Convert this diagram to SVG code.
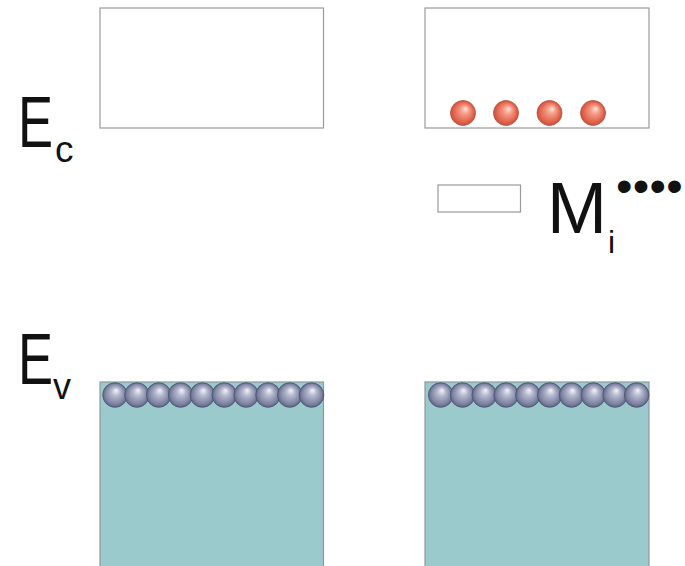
<svg xmlns="http://www.w3.org/2000/svg" width="685" height="566" viewBox="0 0 685 566">
  <defs>
    <radialGradient id="redBall" cx="0.5" cy="0.5" r="0.5" fx="0.62" fy="0.32">
      <stop offset="0" stop-color="#fde3d8"/>
      <stop offset="0.35" stop-color="#f49a85"/>
      <stop offset="0.8" stop-color="#e2634c"/>
      <stop offset="1" stop-color="#c9503c"/>
    </radialGradient>
    <radialGradient id="blueBall" cx="0.5" cy="0.5" r="0.5" fx="0.55" fy="0.3">
      <stop offset="0" stop-color="#f4f5fa"/>
      <stop offset="0.35" stop-color="#b4b8cd"/>
      <stop offset="0.8" stop-color="#7f85a3"/>
      <stop offset="1" stop-color="#5d6384"/>
    </radialGradient>
    <circle id="electron" r="12.5" fill="url(#redBall)" stroke="#b05343" stroke-width="0.8"/>
    <circle id="hole" r="12.3" fill="url(#blueBall)" stroke="#4f5570" stroke-width="0.8"/>
  </defs>
  <style>
    .band { fill: #ffffff; stroke: #9a9a9a; stroke-width: 1.2; }
    .valence { fill: #9bcacc; stroke: #8d9a9b; stroke-width: 1.2; }
    .lbl { font-family: "Liberation Sans", Arial, sans-serif; fill: #111111; }
  </style>
  <rect width="685" height="566" fill="#ffffff"/>

  <!-- energy level labels (condensed capital E) -->
  <g id="label-Ec">
    <text class="lbl" transform="translate(18,147) scale(0.73,1)" font-size="72">E</text>
    <text class="lbl" x="55" y="162" font-size="37">c</text>
  </g>
  <g id="label-Ev">
    <text class="lbl" transform="translate(18,384) scale(0.73,1)" font-size="72">E</text>
    <text class="lbl" x="53" y="399" font-size="36">v</text>
  </g>

  <!-- conduction bands -->
  <g id="conduction-left">
    <rect class="band" x="100" y="8" width="223.5" height="120"/>
  </g>
  <g id="conduction-right">
    <rect class="band" x="425" y="8" width="224" height="120"/>
    <use href="#electron" x="463" y="113"/>
    <use href="#electron" x="506" y="113"/>
    <use href="#electron" x="549.5" y="113"/>
    <use href="#electron" x="593" y="113"/>
  </g>

  <!-- donor level -->
  <g id="donor-level">
    <rect class="band" x="438" y="185" width="82.5" height="27"/>
    <text class="lbl" x="547" y="233" font-size="72">M</text>
    <text class="lbl" x="608" y="253" font-size="32">i</text>
    <text class="lbl" x="616" y="202" font-size="47" letter-spacing="0.3">••••</text>
  </g>

  <!-- valence bands -->
  <g id="valence-left">
    <rect class="valence" x="100" y="382" width="223.5" height="190"/>
    <use href="#hole" x="115" y="395"/>
    <use href="#hole" x="136.9" y="395"/>
    <use href="#hole" x="158.7" y="395"/>
    <use href="#hole" x="180.6" y="395"/>
    <use href="#hole" x="202.4" y="395"/>
    <use href="#hole" x="224.3" y="395"/>
    <use href="#hole" x="246.1" y="395"/>
    <use href="#hole" x="268" y="395"/>
    <use href="#hole" x="289.8" y="395"/>
    <use href="#hole" x="311.5" y="395"/>
  </g>
  <g id="valence-right">
    <rect class="valence" x="425" y="382" width="224" height="190"/>
    <use href="#hole" x="440.7" y="395"/>
    <use href="#hole" x="462.5" y="395"/>
    <use href="#hole" x="484.3" y="395"/>
    <use href="#hole" x="506.1" y="395"/>
    <use href="#hole" x="527.9" y="395"/>
    <use href="#hole" x="549.7" y="395"/>
    <use href="#hole" x="571.5" y="395"/>
    <use href="#hole" x="593.3" y="395"/>
    <use href="#hole" x="615.1" y="395"/>
    <use href="#hole" x="636.7" y="395"/>
  </g>

  <!-- no connectors in this diagram -->
  <g id="connectors"/>
</svg>
